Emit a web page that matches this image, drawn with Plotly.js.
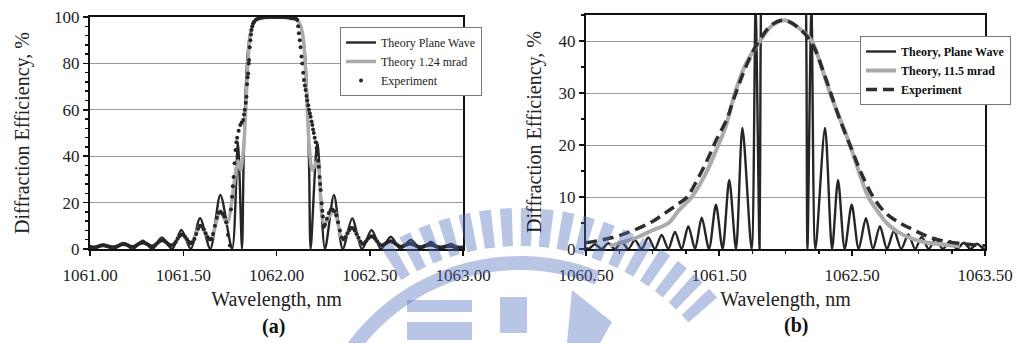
<!DOCTYPE html>
<html>
<head>
<meta charset="utf-8">
<script src="https://cdn.plot.ly/plotly-3.0.1.min.js"></script>
<style>html,body{margin:0;padding:0;background:#fff}#chart{width:1019px;height:343px}</style>
</head>
<body>
<div id="chart"></div>
<script>
// ---------- Panel (a) ----------
const planeA_x = [1061.00,1061.02,1061.07,1061.125,1061.18,1061.23,1061.283,1061.335,1061.385,1061.44,1061.49,1061.541,1061.59,1061.645,1061.699,1061.762,1061.793,1061.815,1061.823,1061.831,1061.842,1061.853,1061.869,1061.89,1061.93,1062.00,1062.07,1062.108,1062.129,1062.145,1062.156,1062.167,1062.175,1062.183,1062.219,1062.26,1062.308,1062.355,1062.406,1062.458,1062.51,1062.56,1062.613,1062.665,1062.72,1062.775,1062.828,1062.88,1062.935,1062.99,1063.00];
const planeA_y = [0.8,0,2.0,0,2.6,0,3.6,0,5.0,0,8.2,0,13.3,0,23.3,0,46,0,35,60,80,90,96,99,100,100,100,99,96,90,80,60,35,0,46,0,23.3,0,13.2,0,8.2,0,5.3,0,3.9,0,3.0,0,2.2,0,0.1];

const mradA_x = [1061.00,1061.02,1061.07,1061.125,1061.18,1061.23,1061.283,1061.335,1061.385,1061.44,1061.49,1061.541,1061.59,1061.645,1061.699,1061.735,1061.793,1061.808,1061.825,1061.835,1061.845,1061.855,1061.87,1061.89,1061.93,1062.00,1062.07,1062.11,1062.13,1062.145,1062.155,1062.165,1062.175,1062.192,1062.219,1062.255,1062.308,1062.355,1062.406,1062.458,1062.51,1062.56,1062.613,1062.665,1062.72,1062.775,1062.828,1062.88,1062.935,1063.00];
const mradA_y = [1.0,0.6,1.5,0.8,2.0,0.9,2.8,1.1,3.8,1.5,6.2,2.5,10,4,16.5,11,38,34,45,60,78,90,96,99,100,100,100,99,96,90,78,60,45,34,38,11,16.5,4,9,2.2,5.5,1.4,3.3,1.0,2.3,0.8,1.8,0.7,1.3,0.6];

const expA_x = [1061.00,1061.01,1061.02,1061.03,1061.04,1061.05,1061.06,1061.07,1061.08,1061.09,1061.10,1061.11,1061.12,1061.13,1061.14,1061.15,1061.16,1061.17,1061.18,1061.19,1061.20,1061.21,1061.22,1061.23,1061.24,1061.25,1061.26,1061.27,1061.28,1061.29,1061.30,1061.31,1061.32,1061.33,1061.34,1061.35,1061.36,1061.37,1061.38,1061.39,1061.40,1061.41,1061.42,1061.43,1061.44,1061.45,1061.46,1061.47,1061.48,1061.49,1061.50,1061.51,1061.52,1061.53,1061.54,1061.55,1061.56,1061.57,1061.58,1061.59,1061.60,1061.61,1061.62,1061.63,1061.64,1061.65,1061.66,1061.67,1061.68,1061.69,1061.70,1061.71,1061.72,1061.73,1061.74,1061.75,
1061.756,1061.762,1061.766,1061.77,1061.775,1061.78,1061.785,1061.789,1061.797,1061.806,1061.813,1061.821,1061.826,1061.83,1061.835,1061.839,1061.842,1061.845,1061.848,1061.851,1061.853,1061.856,1061.86,1061.863,1061.866,1061.87,1061.875,1061.88,1061.89,
1061.90,1061.91,1061.92,1061.93,1061.94,1061.95,1061.96,1061.97,1061.98,1061.99,1062.00,1062.01,1062.02,1062.03,1062.04,1062.05,1062.06,1062.07,1062.08,1062.09,1062.10,
1062.106,1062.111,1062.116,1062.12,1062.125,1062.129,1062.134,1062.138,1062.143,1062.147,1062.152,1062.156,1062.161,1062.165,1062.17,1062.174,1062.179,1062.183,1062.188,1062.192,1062.196,1062.20,1062.205,1062.21,1062.215,1062.219,1062.223,1062.227,1062.231,1062.234,1062.237,1062.242,1062.246,1062.249,1062.254,1062.26,
1062.27,1062.28,1062.29,1062.30,1062.31,1062.32,1062.33,1062.34,1062.35,1062.36,1062.37,1062.38,1062.39,1062.40,1062.41,1062.42,1062.43,1062.44,1062.45,1062.46,1062.47,1062.48,1062.49,1062.50,1062.51,1062.52,1062.53,1062.54,1062.55,1062.56,1062.57,1062.58,1062.59,1062.60,1062.61,1062.62,1062.63,1062.64,1062.65,1062.66,1062.67,1062.68,1062.69,1062.70,1062.71,1062.72,1062.73,1062.74,1062.75,1062.76,1062.77,1062.78,1062.79,1062.80,1062.81,1062.82,1062.83,1062.84,1062.85,1062.86,1062.87,1062.88,1062.89,1062.90,1062.91,1062.92,1062.93,1062.94,1062.95,1062.96,1062.97,1062.98,1062.99,1063.00];
const expA_y = [1.0,0.8,0.7,0.8,1.0,1.3,1.5,1.6,1.5,1.3,1.1,0.9,0.8,0.8,1.0,1.3,1.7,2.0,2.1,2.0,1.7,1.3,1.0,0.9,1.1,1.6,2.2,2.6,2.8,2.7,2.4,1.9,1.4,1.1,1.2,1.7,2.5,3.2,3.7,3.8,3.4,2.8,2.1,1.6,1.5,2.0,3.0,4.4,5.6,6.3,6.1,5.3,4.2,3.1,2.5,2.9,4.3,6.5,8.7,10.0,9.8,8.5,6.8,5.2,4.2,4.3,6.5,10.0,13.5,15.6,16.0,15.2,14.0,11.5,6.0,1.5,
17,22.5,27,31,37,42.7,46,48,51,53.4,54.5,55.6,58,60,63,65.6,71,74,75.7,80,81.5,87,90,92.5,94.4,96,97.3,98,98.8,
99.2,99.5,99.7,99.8,99.9,99.9,100,100,100,100,100,100,100,100,99.9,99.9,99.8,99.7,99.5,99.4,99.3,
99.1,98.7,96,93,90,87,83,80,76,72.8,70.5,68.5,66,64,62,60,58.5,57,55,53.4,51.5,50,48,46,43.5,41,38,35.5,31,28,25.4,19.7,16.5,14,9.6,10.5,
13,15.5,16.8,17,16.3,14.5,11.5,8,5,4.2,5.2,6.8,8.2,9,8.9,8,6.5,4.8,3.2,2.3,2.4,3.3,4.4,5.2,5.5,5.2,4.4,3.3,2.2,1.5,1.6,2.1,2.7,3.1,3.3,3.2,2.8,2.2,1.5,1.1,1.0,1.3,1.7,2.1,2.3,2.3,2.1,1.7,1.3,0.9,0.8,0.9,1.2,1.5,1.7,1.8,1.8,1.6,1.3,1.0,0.8,0.7,0.8,1.0,1.2,1.3,1.3,1.2,1.0,0.8,0.6,0.5,0.5,0.6];

// ---------- Panel (b) ----------
const planeB_x = [1060.50,1060.518,1060.568,1060.618,1060.668,1060.718,1060.768,1060.818,1060.868,1060.918,1060.968,1061.018,1061.069,1061.119,1061.169,1061.219,1061.269,1061.32,1061.37,1061.425,1061.477,1061.527,1061.577,1061.628,1061.676,1061.745,1061.775,
1061.805,1061.812,1061.82,1061.83,1061.845,1061.87,1061.91,1061.985,1062.06,1062.10,1062.125,1062.14,1062.15,1062.158,1062.165,
1062.195,1062.225,1062.297,1062.35,1062.395,1062.445,1062.498,1062.55,1062.605,1062.658,1062.71,1062.763,1062.816,1062.87,1062.923,1062.975,1063.024,1063.077,1063.13,1063.183,1063.237,1063.29,1063.34,1063.39,1063.44,1063.49,1063.50];
const planeB_y = [0.3,0,0.9,0,1.1,0,1.4,0,1.7,0,2.2,0,2.7,0,3.3,0,4.4,0,6.0,0,8.5,0,13.3,0,23.3,0,46,
0,35,60,80,90,96,99,100,99,96,90,80,60,35,0,
46,0,23.3,0,13.3,0,8.5,0,5.9,0,4.4,0,3.5,0,2.8,0,2.3,0,2.0,0,1.5,0,1.2,0,1.0,0,0.05];

const mradB_x = [1060.68,1060.80,1060.90,1061.00,1061.12,1061.20,1061.295,1061.40,1061.495,1061.55,1061.62,1061.70,1061.808,1061.90,1061.995,1062.10,1062.197,1062.27,1062.335,1062.41,1062.485,1062.55,1062.623,1062.70,1062.76,1062.85,1062.95,1063.05,1063.20,1063.31];
const mradB_y = [0.6,1.5,2.4,3.6,5.0,7.5,10,14.5,20,23.5,30,35.5,40,43,44,42.5,40,35,30,25,20,15,10,7,5,3.2,2.0,1.3,0.8,0.5];

const expB_x = [1060.50,1060.70,1060.85,1061.00,1061.10,1061.20,1061.26,1061.33,1061.41,1061.48,1061.56,1061.61,1061.71,1061.80,1061.90,1061.99,1062.10,1062.20,1062.30,1062.40,1062.50,1062.58,1062.66,1062.75,1062.86,1062.96,1063.06,1063.16,1063.30,1063.50];
const expB_y = [1.2,2.2,3.5,5.3,7.0,8.8,10,13,17,21,25,28.8,35.5,40,43.2,44,42.5,39.5,33,25.5,19,14,10,7,5,3.7,2.5,1.7,1.1,0.6];

const namesA = ['Theory Plane Wave','Theory 1.24 mrad','Experiment'];
const namesB = ['Theory, Plane Wave','Theory, 11.5 mrad','Experiment'];

const SERIF = 'Liberation Serif';
const DARK = '#262626';
const GRAY = '#ababab';

const traces = [
  {x: planeA_x, y: planeA_y, name: namesA[0], mode: 'lines', line: {color: DARK, width: 2.4, shape: 'spline', smoothing: 0.8}, xaxis: 'x', yaxis: 'y', legend: 'legend'},
  {x: mradA_x, y: mradA_y, name: namesA[1], mode: 'lines', line: {color: GRAY, width: 3.5, shape: 'spline', smoothing: 0.8}, xaxis: 'x', yaxis: 'y', legend: 'legend'},
  {x: expA_x, y: expA_y, name: namesA[2], mode: 'markers', marker: {color: DARK, size: 4, symbol: 'circle'}, xaxis: 'x', yaxis: 'y', legend: 'legend'},
  {x: planeB_x, y: planeB_y, name: namesB[0], mode: 'lines', line: {color: DARK, width: 2.4, shape: 'spline', smoothing: 0.8}, xaxis: 'x2', yaxis: 'y2', legend: 'legend2'},
  {x: mradB_x, y: mradB_y, name: namesB[1], mode: 'lines', line: {color: GRAY, width: 4, shape: 'spline', smoothing: 1}, xaxis: 'x2', yaxis: 'y2', legend: 'legend2'},
  {x: expB_x, y: expB_y, name: namesB[2], mode: 'lines', line: {color: '#2e2e2e', width: 3.5, dash: '11px,6px', shape: 'spline', smoothing: 1}, xaxis: 'x2', yaxis: 'y2', legend: 'legend2'}
];

const W = 1019, H = 343;
const px = v => v / W, py = v => 1 - v / H;

const axisCommon = {
  showline: true, linecolor: '#111', linewidth: 2, mirror: true,
  ticks: 'outside', ticklen: 5, tickwidth: 1.5, tickcolor: '#111',
  tickfont: {family: SERIF, size: 17, color: '#222'},
  zeroline: false
};

// decorative watermark, drawn in pixel space of the page
const WM = 'rgba(80,110,190,0.40)';
const shapes = [];
function P(x, y) { return px(x).toFixed(5) + ',' + py(y).toFixed(5); }
const cx = 520, cy = 470;
for (let a = 238; a < 318; a += 4.6) {
  const r1 = 224, r2 = 262, a1 = a * Math.PI / 180, a2 = (a + 2.6) * Math.PI / 180;
  const pts = [[cx + r1 * Math.cos(a1), cy + r1 * Math.sin(a1)], [cx + r2 * Math.cos(a1), cy + r2 * Math.sin(a1)], [cx + r2 * Math.cos(a2), cy + r2 * Math.sin(a2)], [cx + r1 * Math.cos(a2), cy + r1 * Math.sin(a2)]];
  shapes.push({type: 'path', xref: 'paper', yref: 'paper', layer: 'above', line: {width: 0}, fillcolor: WM,
    path: 'M' + pts.map(p => P(p[0], p[1])).join('L') + 'Z'});
}
(function () {
  const r1 = 200, r2 = 214;
  const outer = [], inner = [];
  for (let a = 214; a <= 292; a += 3) {
    const t = a * Math.PI / 180;
    outer.push([cx + r2 * Math.cos(t), cy + r2 * Math.sin(t)]);
    inner.push([cx + r1 * Math.cos(t), cy + r1 * Math.sin(t)]);
  }
  const all = outer.concat(inner.reverse());
  shapes.push({type: 'path', xref: 'paper', yref: 'paper', layer: 'above', line: {width: 0}, fillcolor: WM, path: 'M' + all.map(p => P(p[0], p[1])).join('L') + 'Z'});
})();
shapes.push({type: 'rect', xref: 'paper', yref: 'paper', layer: 'above', line: {width: 0}, fillcolor: WM, x0: px(407), x1: px(472), y0: py(312), y1: py(300)});
shapes.push({type: 'rect', xref: 'paper', yref: 'paper', layer: 'above', line: {width: 0}, fillcolor: WM, x0: px(407), x1: px(472), y0: py(340), y1: py(322)});
shapes.push({type: 'rect', xref: 'paper', yref: 'paper', layer: 'above', line: {width: 0}, fillcolor: WM, x0: px(500), x1: px(527), y0: py(333), y1: py(297)});
shapes.push({type: 'path', xref: 'paper', yref: 'paper', layer: 'above', line: {width: 0}, fillcolor: WM, path: 'M' + P(567, 343) + 'L' + P(572, 290) + 'L' + P(612, 322) + 'L' + P(600, 343) + 'Z'});

const titleFont = {family: SERIF, size: 20, color: '#222'};

const layout = {
  width: W, height: H,
  margin: {l: 0, r: 0, t: 0, b: 0},
  paper_bgcolor: '#fff', plot_bgcolor: '#fff',
  font: {family: SERIF, color: '#222'},
  xaxis: Object.assign({}, axisCommon, {
    domain: [px(90), px(463)], range: [1061, 1063], anchor: 'y',
    tick0: 1061, dtick: 0.5, tickformat: '.2f', showgrid: false, ticklabelstandoff: 5,
    title: {text: 'Wavelength, nm', font: titleFont, standoff: 8}
  }),
  yaxis: Object.assign({}, axisCommon, {
    domain: [py(249), py(17)], range: [0, 100], anchor: 'x',
    tick0: 0, dtick: 20, showgrid: true, gridcolor: '#9a9a9a', gridwidth: 1,
    minor: {dtick: 4, ticklen: 3, tickcolor: '#111', showgrid: false, ticks: 'outside'},
    title: {text: 'Diffraction Efficiency, %', font: titleFont, standoff: 19}
  }),
  xaxis2: Object.assign({}, axisCommon, {
    domain: [px(586), px(985)], range: [1060.5, 1063.5], anchor: 'y2',
    tick0: 1060.5, dtick: 1, tickformat: '.2f', showgrid: false, ticklabelstandoff: 5,
    minor: {dtick: 0.25, ticklen: 3, tickcolor: '#111', showgrid: false, ticks: 'outside'},
    title: {text: 'Wavelength, nm', font: titleFont, standoff: 8}
  }),
  yaxis2: Object.assign({}, axisCommon, {
    domain: [py(249), py(15)], range: [0, 45], anchor: 'x2',
    tick0: 0, dtick: 10, showgrid: true, gridcolor: '#9a9a9a', gridwidth: 1,
    minor: {dtick: 5, ticklen: 3, tickcolor: '#111', showgrid: false, ticks: 'outside'},
    title: {text: 'Diffraction Efficiency, %', font: titleFont, standoff: 12}
  }),
  legend: {x: px(340), y: py(27), xanchor: 'left', yanchor: 'top', bgcolor: '#fff', bordercolor: '#777', borderwidth: 1,
    font: {family: SERIF, size: 12, color: '#222'}, tracegroupgap: 0, itemwidth: 30},
  legend2: {x: px(860), y: py(36), xanchor: 'left', yanchor: 'top', bgcolor: '#fff', bordercolor: '#777', borderwidth: 1,
    font: {family: SERIF, size: 12, color: '#111', weight: 'bold'}, tracegroupgap: 0, itemwidth: 30},
  showlegend: true,
  annotations: [
    {text: '(a)', xref: 'paper', yref: 'paper', x: px(273), y: py(326), xanchor: 'center', yanchor: 'middle', showarrow: false, font: {family: SERIF, size: 20, color: '#111', weight: 'bold'}},
    {text: '(b)', xref: 'paper', yref: 'paper', x: px(796), y: py(325), xanchor: 'center', yanchor: 'middle', showarrow: false, font: {family: SERIF, size: 20, color: '#111', weight: 'bold'}}
  ],
  shapes: shapes
};

Plotly.newPlot('chart', traces, layout, {staticPlot: true, displayModeBar: false});
</script>
</body>
</html>
